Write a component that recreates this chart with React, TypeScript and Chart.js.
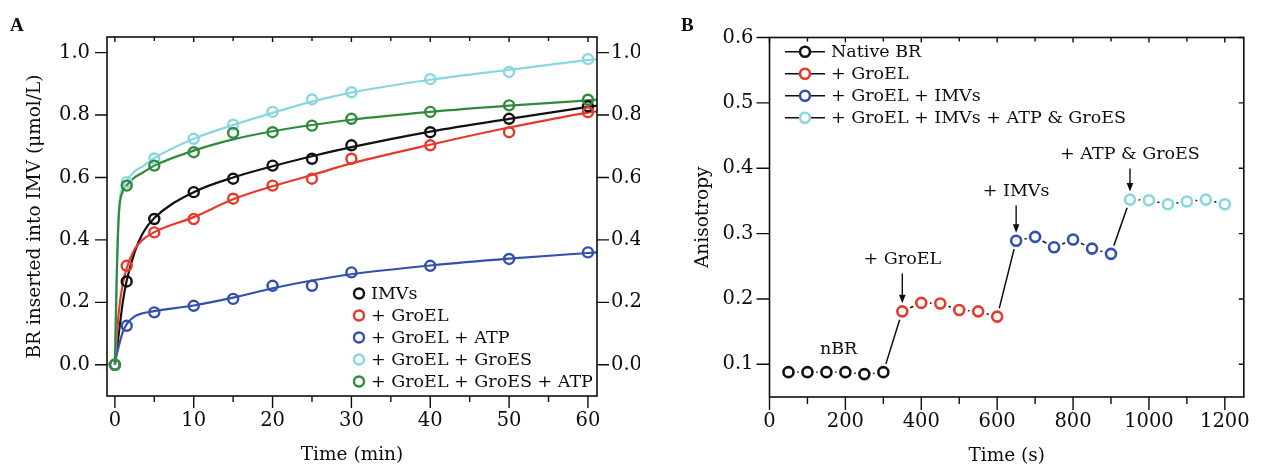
import React, { useEffect, useRef } from 'react';
import { Chart, registerables } from 'chart.js';

Chart.register(...registerables);

// ---------------- Panel A data ----------------
const A_TIME = [0, 1.5, 5, 10, 15, 20, 25, 30, 40, 50, 60];
const A_IMVS = [0, 0.267, 0.467, 0.553, 0.596, 0.638, 0.66, 0.703, 0.745, 0.788, 0.828];
const A_GROEL = [0, 0.317, 0.424, 0.467, 0.532, 0.574, 0.596, 0.66, 0.703, 0.745, 0.809];
const A_GROEL_ATP = [0, 0.125, 0.168, 0.189, 0.211, 0.253, 0.253, 0.296, 0.317, 0.339, 0.36];
const A_GROEL_GROES = [0, 0.585, 0.661, 0.724, 0.769, 0.81, 0.85, 0.873, 0.915, 0.938, 0.979];
const A_GROEL_GROES_ATP = [0, 0.574, 0.638, 0.681, 0.743, 0.745, 0.766, 0.788, 0.81, 0.831, 0.849];

// fitted curves
const FIT_TIME = [0, 0.25, 0.5, 1, 1.5, 2.5, 3.5, 5, 10, 15, 20, 25, 30, 40, 50, 60, 61.15];
const FIT_IMVS = [0, 0.05, 0.1, 0.2, 0.27, 0.36, 0.42, 0.47, 0.553, 0.6, 0.636, 0.668, 0.697, 0.747, 0.788, 0.826, 0.83];
const FIT_GROEL = [0, 0.09, 0.17, 0.26, 0.31, 0.37, 0.4, 0.425, 0.473, 0.53, 0.572, 0.608, 0.645, 0.705, 0.76, 0.808, 0.812];
const FIT_GROEL_ATP = [0, 0.035, 0.06, 0.105, 0.13, 0.155, 0.165, 0.172, 0.19, 0.215, 0.245, 0.27, 0.29, 0.318, 0.34, 0.358, 0.36];
const FIT_GROEL_GROES = [0, 0.3, 0.49, 0.57, 0.59, 0.62, 0.635, 0.662, 0.724, 0.768, 0.807, 0.843, 0.872, 0.913, 0.945, 0.976, 0.979];
const FIT_GROEL_GROES_ATP = [0, 0.3, 0.48, 0.555, 0.575, 0.6, 0.615, 0.638, 0.686, 0.722, 0.748, 0.768, 0.785, 0.81, 0.83, 0.847, 0.849];

const A_LABELS = ['IMVs', '+ GroEL', '+ GroEL + ATP', '+ GroEL + GroES', '+ GroEL + GroES + ATP'];
const A_X_MAJOR = [0, 10, 20, 30, 40, 50, 60];
const A_X_MINOR = [5, 15, 25, 35, 45, 55];
const A_Y_TICKS = [0, 0.2, 0.4, 0.6, 0.8, 1.0];

// ---------------- Panel B data ----------------
const B_TIME_NATIVE = [50, 100, 150, 200, 250, 300];
const B_NATIVE = [0.088, 0.088, 0.088, 0.088, 0.085, 0.088];
const B_TIME_GROEL = [350, 400, 450, 500, 550, 600];
const B_GROEL = [0.181, 0.194, 0.193, 0.183, 0.181, 0.173];
const B_TIME_IMVS = [650, 700, 750, 800, 850, 900];
const B_IMVS = [0.289, 0.295, 0.279, 0.291, 0.277, 0.269];
const B_TIME_ATP = [950, 1000, 1050, 1100, 1150, 1200];
const B_ATP = [0.352, 0.351, 0.345, 0.349, 0.352, 0.345];

const B_LABELS = ['Native BR', '+ GroEL', '+ GroEL + IMVs', '+ GroEL + IMVs + ATP & GroES'];
const B_X_MAJOR = [0, 200, 400, 600, 800, 1000, 1200];
const B_X_MINOR = [100, 300, 500, 700, 900, 1100];
const B_Y_TICKS = [0.1, 0.2, 0.3, 0.4, 0.5, 0.6];

const B_ANNOT_LABELS = ['+ GroEL', '+ IMVs', '+ ATP & GroES'];
const B_ANNOT_X = [350, 650, 950];
const B_ANNOT_TEXT_Y = [0.2605, 0.3645, 0.421];
const B_NBR_LABEL = 'nBR';
const B_NBR_X = 182;
const B_NBR_Y = 0.123;

// ---------------- styles ----------------
const FONT = "'DejaVu Serif', serif";
const INK = '#0d0d0d';
const A_COLORS = ['#111111', '#e5392b', '#3350ae', '#88d7e0', '#2f8a3c'];
const B_COLORS = ['#111111', '#e5392b', '#3350ae', '#88d7e0'];

const pts = (xs: number[], ys: number[]) => xs.map((x, i) => ({ x, y: ys[i] }));

// frame + tick marks
const framePlugin = {
  id: 'frame',
  afterDatasetsDraw(chart: any, _a: any, o: any) {
    const { ctx, chartArea: ca, scales } = chart;
    const xs = scales.x;
    const ys = scales.y;
    ctx.save();
    ctx.strokeStyle = INK;
    ctx.lineWidth = 1.4;
    ctx.beginPath();
    const seg = (x1: number, y1: number, x2: number, y2: number) => {
      ctx.moveTo(x1, y1);
      ctx.lineTo(x2, y2);
    };
    for (const v of o.xMajor) {
      const p = xs.getPixelForValue(v);
      seg(p, ca.bottom, p, ca.bottom + o.outMajor);
      seg(p, ca.top, p, ca.top + o.inLen);
    }
    for (const v of o.xMinor) {
      const p = xs.getPixelForValue(v);
      seg(p, ca.bottom, p, ca.bottom + o.outMinor);
      seg(p, ca.top, p, ca.top + o.inLen * 0.8);
    }
    for (const v of o.yTicks) {
      const p = ys.getPixelForValue(v);
      seg(ca.left, p, ca.left - o.outMajor, p);
      if (o.rightOut) seg(ca.right, p, ca.right + o.outMajor, p);
      else seg(ca.right, p, ca.right - o.inLen, p);
    }
    ctx.stroke();
    ctx.lineWidth = 1.6;
    ctx.strokeRect(ca.left, ca.top, ca.right - ca.left, ca.bottom - ca.top);
    ctx.restore();
  },
};

// legend drawn inside the plot
const legendPlugin = {
  id: 'ptLegend',
  afterDraw(chart: any, _a: any, o: any) {
    const ctx = chart.ctx;
    ctx.save();
    ctx.font = `${o.size}px ${FONT}`;
    ctx.textBaseline = 'middle';
    ctx.textAlign = 'left';
    for (let i = 0; i < o.labels.length; i++) {
      const y = o.y + i * o.dy;
      if (o.line) {
        ctx.strokeStyle = INK;
        ctx.lineWidth = 1.5;
        ctx.beginPath();
        ctx.moveTo(o.x - o.lineHalf, y);
        ctx.lineTo(o.x + o.lineHalf, y);
        ctx.stroke();
      }
      ctx.beginPath();
      ctx.arc(o.x, y, o.r, 0, Math.PI * 2);
      ctx.fillStyle = '#ffffff';
      ctx.fill();
      ctx.strokeStyle = o.colors[i];
      ctx.lineWidth = o.bw;
      ctx.stroke();
      ctx.fillStyle = INK;
      ctx.fillText(o.labels[i], o.textX, y + 1);
    }
    ctx.restore();
  },
};

const panelLabelPlugin = {
  id: 'panelLabel',
  afterDraw(chart: any, _a: any, o: any) {
    const ctx = chart.ctx;
    ctx.save();
    ctx.font = `bold 19px 'Liberation Serif', serif`;
    ctx.fillStyle = INK;
    ctx.textBaseline = 'middle';
    ctx.textAlign = 'left';
    ctx.fillText(o.text, o.x, o.y);
    ctx.restore();
  },
};

// annotations for panel B
const annotPlugin = {
  id: 'annot',
  afterDraw(chart: any, _a: any, o: any) {
    if (!o || !o.enabled) return;
    const { ctx, scales } = chart;
    const xs = scales.x;
    const ys = scales.y;
    const allX = [...B_TIME_NATIVE, ...B_TIME_GROEL, ...B_TIME_IMVS, ...B_TIME_ATP];
    const allY = [...B_NATIVE, ...B_GROEL, ...B_IMVS, ...B_ATP];
    ctx.save();
    ctx.font = `17.5px ${FONT}`;
    ctx.fillStyle = INK;
    ctx.strokeStyle = INK;
    ctx.textAlign = 'center';
    ctx.textBaseline = 'middle';
    B_ANNOT_LABELS.forEach((lab, i) => {
      const px = xs.getPixelForValue(B_ANNOT_X[i]);
      const ty = ys.getPixelForValue(B_ANNOT_TEXT_Y[i]);
      ctx.fillText(lab, px, ty);
      const idx = allX.indexOf(B_ANNOT_X[i]);
      const py = ys.getPixelForValue(allY[idx]);
      const y0 = ty + 14;
      const y1 = py - 8;
      ctx.lineWidth = 1.4;
      ctx.beginPath();
      ctx.moveTo(px, y0);
      ctx.lineTo(px, y1 - 6);
      ctx.stroke();
      ctx.beginPath();
      ctx.moveTo(px, y1);
      ctx.lineTo(px - 3.3, y1 - 8.5);
      ctx.lineTo(px + 3.3, y1 - 8.5);
      ctx.closePath();
      ctx.fill();
    });
    ctx.fillText(B_NBR_LABEL, xs.getPixelForValue(B_NBR_X), ys.getPixelForValue(B_NBR_Y));
    ctx.restore();
  },
};

const tickFont = { family: FONT, size: 19.5 };
const titleFont = { family: FONT, size: 18.5 };

function makeA(canvas: HTMLCanvasElement) {
  const markerSets = [A_IMVS, A_GROEL, A_GROEL_ATP, A_GROEL_GROES, A_GROEL_GROES_ATP];
  const fitSets = [FIT_IMVS, FIT_GROEL, FIT_GROEL_ATP, FIT_GROEL_GROES, FIT_GROEL_GROES_ATP];
  // later series drawn on top (lower order = on top)
  const markers = markerSets.map((ys, i) => ({
    type: 'scatter' as const,
    label: A_LABELS[i],
    data: pts(A_TIME, ys),
    showLine: false,
    order: 10 - i,
    pointRadius: 5,
    pointBorderWidth: 2.4,
    pointBorderColor: A_COLORS[i],
    pointBackgroundColor: 'rgba(0,0,0,0)',
  }));
  const fits = fitSets.map((ys, i) => ({
    type: 'line' as const,
    label: A_LABELS[i] + ' fit',
    data: pts(FIT_TIME, ys),
    order: 20 - i,
    borderColor: A_COLORS[i],
    borderWidth: 2.2,
    pointRadius: 0,
    cubicInterpolationMode: 'monotone' as const,
    fill: false,
  }));
  const yCommon = {
    type: 'linear' as const,
    min: -0.1,
    max: 1.05,
    afterBuildTicks: (s: any) => {
      s.ticks = A_Y_TICKS.map((v) => ({ value: v }));
    },
    grid: { display: false, drawTicks: false },
    border: { display: false },
  };
  return new Chart(canvas, {
    type: 'scatter',
    data: { datasets: [...markers, ...fits] as any },
    plugins: [framePlugin, legendPlugin, panelLabelPlugin],
    options: {
      animation: false,
      responsive: false,
      events: [],
      layout: { padding: { top: 37, left: 0, right: 0, bottom: 0 } },
      plugins: {
        legend: { display: false },
        tooltip: { enabled: false },
        frame: { xMajor: A_X_MAJOR, xMinor: A_X_MINOR, yTicks: A_Y_TICKS, outMajor: 12, outMinor: 6, inLen: 5, rightOut: true },
        ptLegend: { labels: A_LABELS, colors: A_COLORS, x: 359, textX: 371, y: 293.5, dy: 22, r: 5, bw: 2.4, size: 17.5, line: false },
        panelLabel: { text: 'A', x: 10, y: 26 },
      } as any,
      scales: {
        x: {
          type: 'linear',
          position: 'bottom',
          min: -1,
          max: 61.15,
          afterBuildTicks: (s: any) => {
            s.ticks = [...A_X_MAJOR, ...A_X_MINOR].sort((a, b) => a - b).map((v) => ({ value: v }));
          },
          afterFit: (s: any) => {
            s.height = 72;
          },
          ticks: {
            autoSkip: false,
            maxRotation: 0,
            padding: 13,
            color: INK,
            font: tickFont,
            callback: (v: any) => (A_X_MAJOR.includes(Number(v)) ? String(v) : ''),
          },
          grid: { display: false, drawTicks: false },
          border: { display: false },
          title: { display: true, text: 'Time (min)', color: INK, font: titleFont, padding: { top: 0, bottom: 2 } },
        },
        y: {
          ...yCommon,
          position: 'left',
          afterFit: (s: any) => {
            s.width = 107;
          },
          ticks: { padding: 17, color: INK, font: tickFont, callback: (v: any) => Number(v).toFixed(1) },
          title: { display: true, text: 'BR inserted into IMV (μmol/L)', color: INK, font: titleFont, padding: { top: 24, bottom: 0 } },
        },
        y2: {
          ...yCommon,
          position: 'right',
          afterFit: (s: any) => {
            s.width = 43;
          },
          ticks: { padding: 14, color: INK, font: tickFont, callback: (v: any) => Number(v).toFixed(1) },
        },
      } as any,
    },
  });
}

function makeB(canvas: HTMLCanvasElement) {
  const groupsX = [B_TIME_NATIVE, B_TIME_GROEL, B_TIME_IMVS, B_TIME_ATP];
  const groupsY = [B_NATIVE, B_GROEL, B_IMVS, B_ATP];
  const markers = groupsX.map((xs, i) => ({
    type: 'scatter' as const,
    label: B_LABELS[i],
    data: pts(xs, groupsY[i]),
    showLine: false,
    pointRadius: 5,
    pointBorderWidth: 2.6,
    pointBorderColor: B_COLORS[i],
    pointBackgroundColor: '#ffffff',
  }));
  const lineData = pts(groupsX.flat(), groupsY.flat());
  const connector = {
    type: 'line' as const,
    label: 'connector',
    data: lineData,
    borderColor: INK,
    borderWidth: 1.5,
    pointRadius: 8.8,
    pointBorderWidth: 0,
    pointBackgroundColor: '#ffffff',
    pointBorderColor: 'rgba(0,0,0,0)',
    tension: 0,
    fill: false,
  };
  return new Chart(canvas, {
    type: 'scatter',
    data: { datasets: [...markers, connector] as any },
    plugins: [framePlugin, legendPlugin, panelLabelPlugin, annotPlugin],
    options: {
      animation: false,
      responsive: false,
      events: [],
      layout: { padding: { top: 37.5, left: 0, right: 5, bottom: 0 } },
      plugins: {
        legend: { display: false },
        tooltip: { enabled: false },
        frame: { xMajor: B_X_MAJOR, xMinor: B_X_MINOR, yTicks: B_Y_TICKS, outMajor: 13, outMinor: 7, inLen: 5, rightOut: false },
        ptLegend: { labels: B_LABELS, colors: B_COLORS, x: 165, lineHalf: 20, textX: 191, y: 51.7, dy: 22, r: 5, bw: 2.6, size: 17.5, line: true },
        panelLabel: { text: 'B', x: 41, y: 26 },
        annot: { enabled: true },
      } as any,
      scales: {
        x: {
          type: 'linear',
          position: 'bottom',
          min: 0,
          max: 1250,
          afterBuildTicks: (s: any) => {
            s.ticks = [...B_X_MAJOR, ...B_X_MINOR].sort((a, b) => a - b).map((v) => ({ value: v }));
          },
          afterFit: (s: any) => {
            s.height = 71;
          },
          ticks: {
            autoSkip: false,
            maxRotation: 0,
            padding: 13,
            color: INK,
            font: tickFont,
            callback: (v: any) => (B_X_MAJOR.includes(Number(v)) ? String(v) : ''),
          },
          grid: { display: false, drawTicks: false },
          border: { display: false },
          title: { display: true, text: 'Time (s)', color: INK, font: titleFont, padding: { top: 0, bottom: 1 } },
        },
        y: {
          type: 'linear',
          position: 'left',
          min: 0.05,
          max: 0.6,
          afterBuildTicks: (s: any) => {
            s.ticks = B_Y_TICKS.map((v) => ({ value: v }));
          },
          afterFit: (s: any) => {
            s.width = 129.5;
          },
          ticks: { padding: 16, color: INK, font: tickFont, callback: (v: any) => Number(v).toFixed(1) },
          grid: { display: false, drawTicks: false },
          border: { display: false },
          title: { display: true, text: 'Anisotropy', color: INK, font: titleFont, padding: { top: 52.5, bottom: 0 } },
        },
      } as any,
    },
  });
}

export default function App() {
  const refA = useRef<HTMLCanvasElement>(null);
  const refB = useRef<HTMLCanvasElement>(null);
  useEffect(() => {
    const a = refA.current ? makeA(refA.current) : null;
    const b = refB.current ? makeB(refB.current) : null;
    return () => {
      a?.destroy();
      b?.destroy();
    };
  }, []);
  return (
    <div style={{ position: 'absolute', left: 0, top: 0, width: 1263, height: 468, background: '#ffffff' }}>
      <canvas ref={refA} width={640} height={468} style={{ position: 'absolute', left: 0, top: 0, width: 640, height: 468 }} />
      <canvas ref={refB} width={623} height={468} style={{ position: 'absolute', left: 640, top: 0, width: 623, height: 468 }} />
    </div>
  );
}
